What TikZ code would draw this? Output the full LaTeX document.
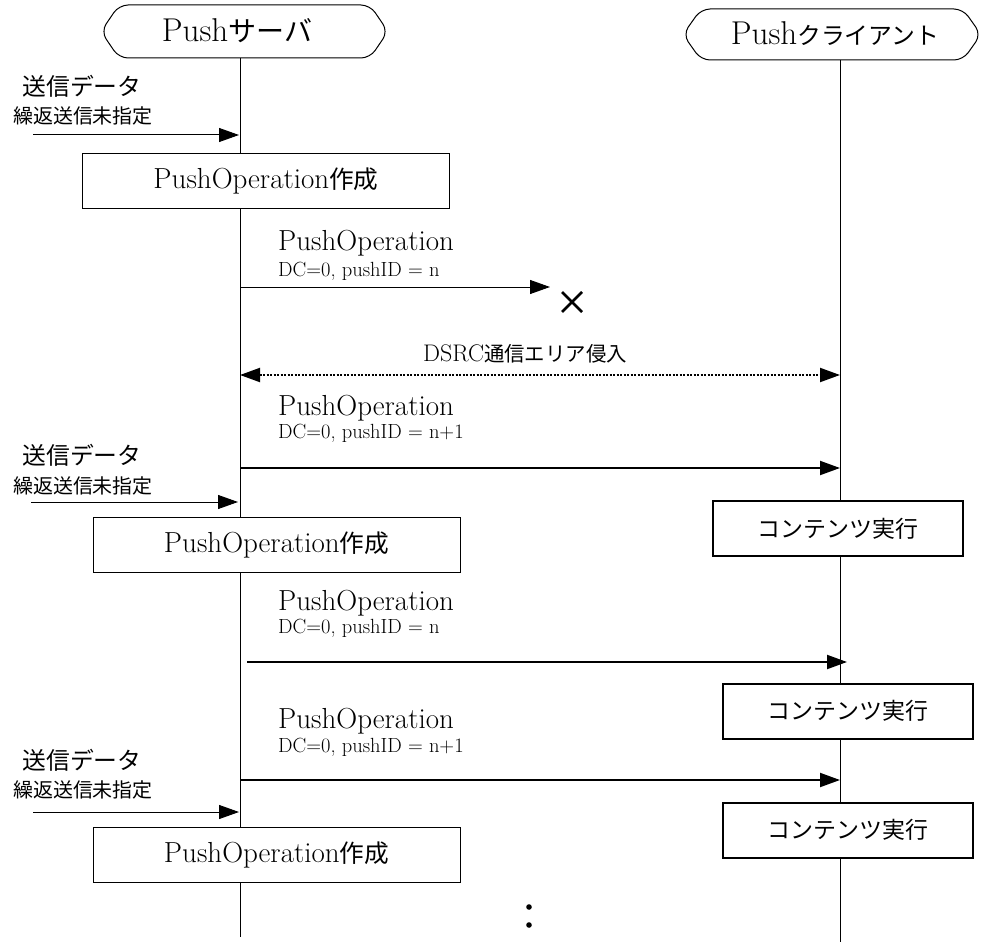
\documentclass[tikz,border=0pt]{standalone}
\usepackage{fontspec}
\newfontfamily\jpf{Noto Sans CJK JP}[Scale=0.85]
\newcommand\jpt[1]{{\jpf #1}}
\usetikzlibrary{arrows.meta}
\tikzset{
 lbl/.style={inner sep=0pt, anchor=base west, font=\fontsize{29}{31}\selectfont},
 sublbl/.style={inner sep=0pt, anchor=base west, font=\fontsize{20.5}{22}\selectfont},
 jbig/.style={inner sep=0pt, font=\fontsize{28}{30}\selectfont\jpf},
 jsmall/.style={inner sep=0pt, font=\fontsize{23.5}{25}\selectfont\jpf},
 hdrtext/.style={inner sep=0pt, font=\fontsize{33}{35}\selectfont},
 opbox/.style={draw, line width=1pt, fill=white, inner sep=0pt, minimum width=367pt, minimum height=55pt, font=\fontsize{29}{31}\selectfont},
 cbox/.style={draw, line width=2pt, fill=white, inner sep=0pt, minimum width=250pt, minimum height=55pt, font=\fontsize{27}{29}\selectfont\jpf},
 life/.style={line width=1pt},
 msg/.style={line width=1pt, -{Triangle[length=20pt,width=14pt]}},
 msgb/.style={line width=2pt, -{Triangle[length=20pt,width=14pt]}},
 hdr/.style={line width=1pt, rounded corners=9pt},
}
\begin{document}
\begin{tikzpicture}[x=1pt,y=-1pt]
\useasboundingbox (0,0) rectangle (982,947);
\fill[white] (0,0) rectangle (982,947);

% headers
\draw[hdr] (119,5) -- (370,5) -- (388,31.5) -- (370,58) -- (119,58) -- (101,31.5) -- cycle;
\node[hdrtext] (srv) at (237,31) {Push\jpt{サーバ}};
\draw[hdr] (701,9) -- (963,9) -- (981,34.5) -- (963,60) -- (701,60) -- (683,34.5) -- cycle;
\node[hdrtext] (cli) at (835,34) {Push{\jpf\fontsize{28}{30}\selectfont クライアント}};

% lifelines
\coordinate (s0) at (240,58);
\coordinate (s1) at (240,937);
\coordinate (c0) at (840,60);
\coordinate (c1) at (840,942);
\draw[life] (s0) -- (s1);
\draw[life] (c0) -- (c1);

% group 1
\node[jbig] (d1) at (82,86) {送信データ};
\node[jsmall] (r1) at (83,116) {繰返送信未指定};
\coordinate (i1a) at (33,135);
\coordinate (i1b) at (239,135);
\draw[msg] (i1a) -- (i1b);
\node[opbox] (b1) at (266,180.5) {PushOperation\jpt{作成}};

% message A (lost)
\node[lbl] (pa) at (278,250) {PushOperation};
\node[sublbl] (qa) at (278,276) {DC=0, pushID = n};
\coordinate (ma0) at (240,287);
\coordinate (ma1) at (550,287);
\draw[msg] (ma0) -- (ma1);
\coordinate (xm) at (572,302);
\draw[line width=2.5pt] ([shift={(-10,-10)}]xm) -- ([shift={(10,10)}]xm)
                       ([shift={(-10,10)}]xm) -- ([shift={(10,-10)}]xm);

% DSRC
\coordinate (ds0) at (240,375);
\coordinate (ds1) at (840,375);
\node[inner sep=0pt, anchor=base, font=\fontsize{24}{26}\selectfont] (dsrc) at (525,361) {DSRC\jpt{通信エリア侵入}};
\draw[line width=2pt, dash pattern=on 2pt off 1.5pt, {Triangle[length=20pt,width=14pt]}-{Triangle[length=20pt,width=14pt]}] (ds0) -- (ds1);

% message B
\node[lbl] (pb) at (278,415) {PushOperation};
\node[sublbl] (qb) at (278,438) {DC=0, pushID = n+1};
\coordinate (mb0) at (240,468);
\coordinate (mb1) at (840,468);
\draw[msgb] (mb0) -- (mb1);

% group 2
\node[jbig] (d2) at (82,455) {送信データ};
\node[jsmall] (r2) at (83,486) {繰返送信未指定};
\coordinate (i2a) at (31,502);
\coordinate (i2b) at (238,502);
\draw[msg] (i2a) -- (i2b);
\node[opbox] (b2) at (276.5,545) {PushOperation\jpt{作成}};
\node[cbox] (k1) at (838,528.5) {コンテンツ実行};

% message D
\node[lbl] (pd) at (278,610) {PushOperation};
\node[sublbl] (qd) at (278,633) {DC=0, pushID = n};
\coordinate (md0) at (247,662);
\coordinate (md1) at (847,662);
\draw[msgb] (md0) -- (md1);
\node[cbox] (k2) at (848,711) {コンテンツ実行};

% message E
\node[lbl] (pe) at (278,728) {PushOperation};
\node[sublbl] (qe) at (278,752) {DC=0, pushID = n+1};
\coordinate (me0) at (240,780);
\coordinate (me1) at (840,780);
\draw[msgb] (me0) -- (me1);

% group 3
\node[jbig] (d3) at (82,760) {送信データ};
\node[jsmall] (r3) at (83,790) {繰返送信未指定};
\coordinate (i3a) at (33,812);
\coordinate (i3b) at (239,812);
\draw[msg] (i3a) -- (i3b);
\node[cbox] (k3) at (848,830) {コンテンツ実行};
\node[opbox] (b3) at (276.5,854.5) {PushOperation\jpt{作成}};

% continuation dots
\coordinate (dot1) at (529,907);
\coordinate (dot2) at (529,925);
\fill (dot1) circle (2.8pt);
\fill (dot2) circle (2.8pt);
\end{tikzpicture}
\end{document}
